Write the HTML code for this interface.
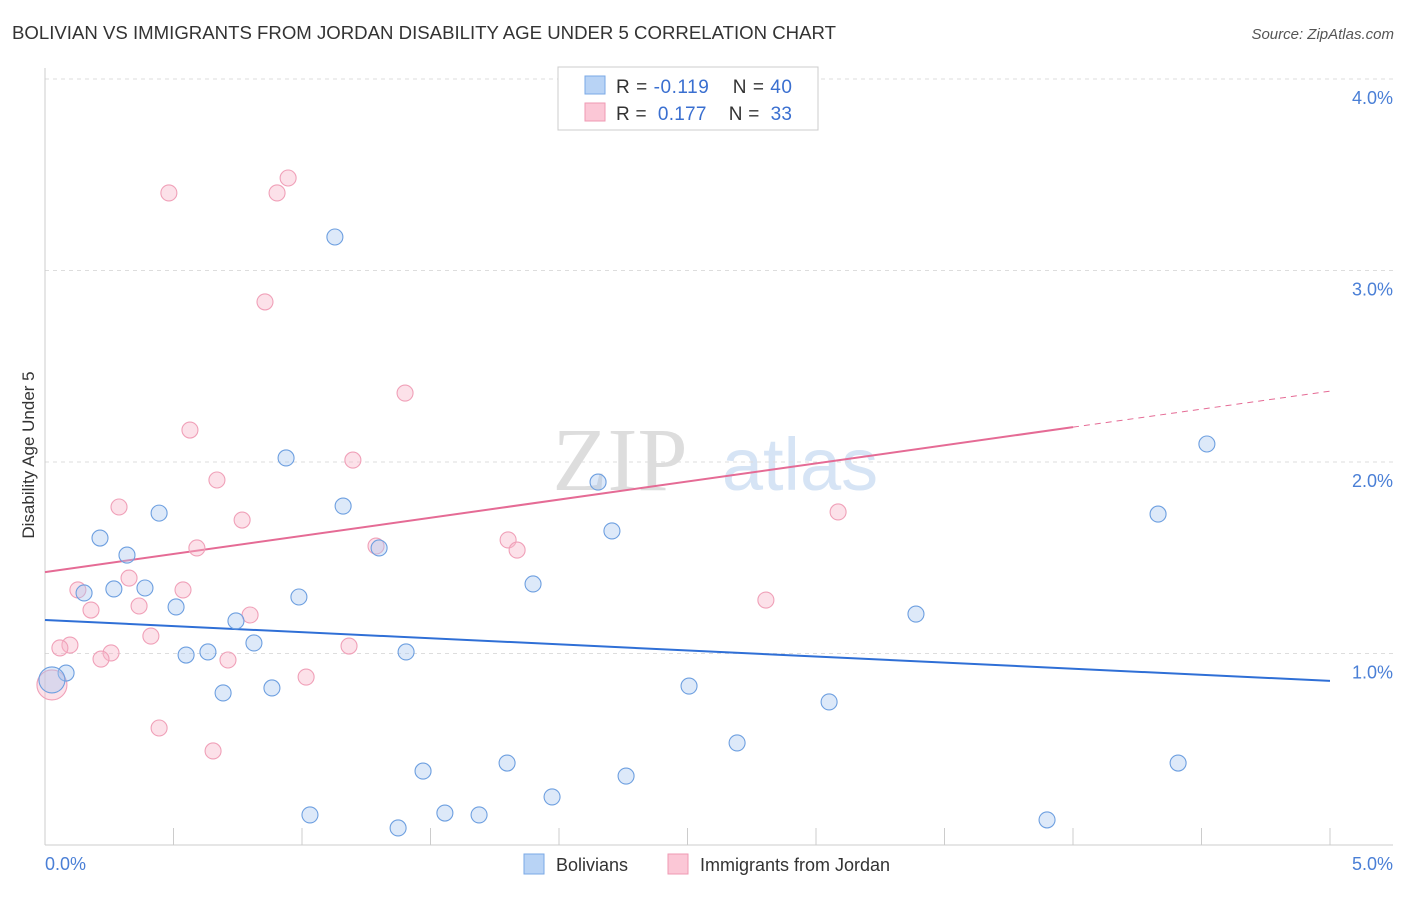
<!DOCTYPE html>
<html><head><meta charset="utf-8"><style>
body{margin:0;background:#fff;font-family:"Liberation Sans",sans-serif}
</style></head><body>
<svg width="1406" height="892" xmlns="http://www.w3.org/2000/svg" font-family="Liberation Sans, sans-serif">
<text x="12" y="39" font-size="18" fill="#333" textLength="824" lengthAdjust="spacingAndGlyphs">BOLIVIAN VS IMMIGRANTS FROM JORDAN DISABILITY AGE UNDER 5 CORRELATION CHART</text>
<text x="1394" y="39" font-size="15" fill="#555" text-anchor="end" font-style="italic">Source: ZipAtlas.com</text>
<text x="620" y="490" font-size="90" fill="#ddd" font-family="Liberation Serif, serif" text-anchor="middle">ZIP</text>
<text x="800" y="490" font-size="74" fill="#d6e4f5" text-anchor="middle">atlas</text>
<g id="grid"></g>
<g id="axes"></g>
<text x="34" y="455" font-size="17" fill="#333" text-anchor="middle" transform="rotate(-90 34 455)">Disability Age Under 5</text>
<text x="45" y="870" font-size="18" fill="#4a7fd6">0.0%</text>
<text x="1393" y="870" font-size="18" fill="#4a7fd6" text-anchor="end">5.0%</text>
<g id="trends"></g>
<g id="points"></g>
<g>
<rect x="558" y="67" width="260" height="63" fill="#fff" stroke="#ccc"/>
<rect x="585" y="76" width="20" height="18" fill="#b8d3f5" stroke="#7aa8e6"/>
<rect x="585" y="103" width="20" height="18" fill="#fbc7d6" stroke="#ef9ab3"/>
<text x="616" y="93" font-size="19" fill="#333" textLength="176" xml:space="preserve">R = <tspan fill="#3a6fd0">-0.119</tspan>    N = <tspan fill="#3a6fd0">40</tspan></text>
<text x="616" y="120" font-size="19" fill="#333" textLength="176" xml:space="preserve">R =  <tspan fill="#3a6fd0">0.177</tspan>    N =  <tspan fill="#3a6fd0">33</tspan></text>
</g>
<g>
<rect x="524" y="854" width="20" height="20" fill="#b8d3f5" stroke="#7aa8e6"/>
<text x="556" y="871" font-size="18" fill="#333">Bolivians</text>
<rect x="668" y="854" width="20" height="20" fill="#fbc7d6" stroke="#ef9ab3"/>
<text x="700" y="871" font-size="18" fill="#333">Immigrants from Jordan</text>
</g>
</svg>
<script>
const yTicks=[1,2,3,4];
const yTickLabels=["1.0%","2.0%","3.0%","4.0%"];
const blueX=[1.128,0.938,4.521,2.152,1.160,0.444,4.331,2.206,0.214,0.319,1.300,1.899,0.268,0.389,0.152,0.988,0.510,0.743,3.389,0.813,0.549,0.634,1.405,0.082,0.027,0.693,0.883,2.506,3.051,2.693,1.471,1.798,2.261,4.409,1.973,1.031,1.556,1.689,1.374,3.899];
const blueY=[3.175,2.021,2.094,1.895,1.770,1.733,1.728,1.640,1.603,1.514,1.551,1.363,1.337,1.342,1.316,1.295,1.243,1.170,1.206,1.055,0.992,1.008,1.008,0.898,0.862,0.794,0.820,0.830,0.747,0.533,0.386,0.428,0.360,0.428,0.251,0.157,0.167,0.157,0.089,0.131];
const pinkX=[0.946,0.482,0.903,0.856,1.401,0.564,1.198,0.669,0.288,0.767,3.086,0.591,1.288,1.802,1.837,0.327,0.128,0.537,0.366,0.179,0.798,2.805,0.412,0.097,0.058,1.183,0.257,0.218,0.712,1.016,0.027,0.444,0.654];
const pinkY=[3.483,3.405,3.405,2.836,2.360,2.167,2.010,1.906,1.765,1.697,1.739,1.551,1.561,1.593,1.540,1.394,1.332,1.332,1.248,1.227,1.201,1.279,1.091,1.044,1.029,1.039,1.003,0.971,0.966,0.877,0.836,0.611,0.491];
const blueTrend=[[0,1.175],[5,0.857]];
const pinkTrend=[[0,1.425],[4,2.182],[5,2.370]];
const NS="http://www.w3.org/2000/svg";
const xs=v=>45+v/5*1285, ys=v=>845-v*191.5;
function mk(t,a,p){const e=document.createElementNS(NS,t);for(const k in a)e.setAttribute(k,a[k]);document.getElementById(p).appendChild(e);return e;}
yTicks.forEach((t,i)=>{
 const l=mk('line',{x1:45,x2:1393,y1:ys(t),y2:ys(t),stroke:'#ddd','stroke-dasharray':'4,4'},'grid');
 
 
 const tx=mk('text',{x:1393,y:ys(t)+25,'font-size':18,fill:'#4a7fd6','text-anchor':'end'},'grid');
 tx.textContent=yTickLabels[i];
 
 
});
let a=mk('line',{x1:45,x2:45,y1:68,y2:845,stroke:'#ccc'},'axes');


a=mk('line',{x1:45,x2:1393,y1:845,y2:845,stroke:'#ccc'},'axes');


for(let i=1;i<=10;i++){const t=mk('line',{x1:xs(i*0.5),x2:xs(i*0.5),y1:828,y2:845,stroke:'#ccc'},'axes');
 
 }
let tl=mk('line',{x1:xs(blueTrend[0][0]),y1:ys(blueTrend[0][1]),x2:xs(blueTrend[1][0]),y2:ys(blueTrend[1][1]),stroke:'#2f6fd6','stroke-width':2},'trends');


tl=mk('line',{x1:xs(pinkTrend[0][0]),y1:ys(pinkTrend[0][1]),x2:xs(pinkTrend[1][0]),y2:ys(pinkTrend[1][1]),stroke:'#e56b95','stroke-width':2},'trends');


tl=mk('line',{x1:xs(pinkTrend[1][0]),y1:ys(pinkTrend[1][1]),x2:xs(pinkTrend[2][0]),y2:ys(pinkTrend[2][1]),stroke:'#e56b95','stroke-width':1,'stroke-dasharray':'6,5'},'trends');


pinkX.forEach((x,i)=>{const r=(i==30)?15:8;
 const c=mk('circle',{cx:xs(x),cy:ys(pinkY[i]),r:r,fill:'rgba(248,180,200,0.4)',stroke:'#f0a0b8','stroke-width':1.1},'points');
 
 });
blueX.forEach((x,i)=>{const r=(i==24)?13:8;
 const c=mk('circle',{cx:xs(x),cy:ys(blueY[i]),r:r,fill:'rgba(170,200,240,0.4)',stroke:'#6d9fe0','stroke-width':1.1},'points');
 
 });
</script>
</body></html>
